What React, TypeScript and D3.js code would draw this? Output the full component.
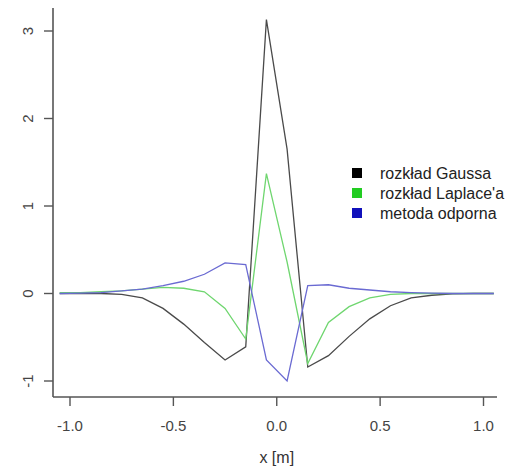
import React from "react";
import * as d3 from "d3";

const xs = [-1.05, -0.95, -0.85, -0.75, -0.65, -0.55, -0.45, -0.35, -0.25, -0.15, -0.05, 0.05, 0.15, 0.25, 0.35, 0.45, 0.55, 0.65, 0.75, 0.85, 0.95, 1.05];
const gauss = [0, 0, 0, -0.01, -0.05, -0.17, -0.35, -0.56, -0.76, -0.61, 3.13, 1.65, -0.84, -0.71, -0.49, -0.29, -0.14, -0.05, -0.02, -0.005, 0, 0];
const laplace = [0.01, 0.01, 0.02, 0.03, 0.05, 0.07, 0.06, 0.02, -0.17, -0.52, 1.37, 0.36, -0.8, -0.33, -0.15, -0.05, -0.01, 0, 0, 0, 0, 0];
const robust = [0, 0.005, 0.01, 0.03, 0.05, 0.09, 0.14, 0.22, 0.35, 0.33, -0.76, -1.0, 0.09, 0.1, 0.06, 0.04, 0.02, 0.01, 0.005, 0, 0, 0];
const seriesNames = ["rozkład Gaussa", "rozkład Laplace'a", "metoda odporna"];
const lineColors = ["#4a4a4a", "#6fd66f", "#6a6ad2"];
const keyColors = ["#000000", "#22cc22", "#1111bb"];
const xTicks = [-1.0, -0.5, 0.0, 0.5, 1.0];
const yTicks = [-1, 0, 1, 2, 3];
const xLabel = "x [m]";

export default function App() {
  const W = 525, H = 476;
  const x = d3.scaleLinear().domain([-1, 1]).range([70, 483.5]);
  const y = d3.scaleLinear().domain([-1, 3]).range([381, 31]);
  const axisLeft = 53, axisBottom = 397, axisTop = 8, axisRight = 497;
  const series = [gauss, laplace, robust];
  const line = d3.line<number>().x((_, i) => x(xs[i])).y((d) => y(d));
  const font = "'Liberation Sans', Arial, Helvetica, sans-serif";
  const axisColor = "#555";
  const textColor = "#444";
  return (
    <svg width={W} height={H} style={{ position: "absolute", left: 0, top: 0, background: "#fff" }} fontFamily={font}>
      <rect x={0} y={0} width={W} height={H} fill="#fff" />
      {/* axes */}
      <line x1={axisLeft} x2={axisLeft} y1={axisTop} y2={axisBottom} stroke={axisColor} strokeWidth={1.6} />
      <line x1={axisLeft} x2={axisRight} y1={axisBottom} y2={axisBottom} stroke={axisColor} strokeWidth={1.6} />
      {yTicks.map((t) => (
        <g key={"y" + t}>
          <line x1={axisLeft - 9} x2={axisLeft} y1={y(t)} y2={y(t)} stroke={axisColor} strokeWidth={1.4} />
          <text transform={`translate(${27},${y(t)}) rotate(-90)`} textAnchor="middle" dominantBaseline="central" fontSize={15} fill={textColor}>
            {t < 0 ? "-" + Math.abs(t) : String(t)}
          </text>
        </g>
      ))}
      {xTicks.map((t) => (
        <g key={"x" + t}>
          <line x1={x(t)} x2={x(t)} y1={axisBottom} y2={axisBottom + 9} stroke={axisColor} strokeWidth={1.4} />
          <text x={x(t)} y={425} textAnchor="middle" dominantBaseline="central" fontSize={15} fill={textColor}>
            {t < 0 ? "-" + Math.abs(t).toFixed(1) : t.toFixed(1)}
          </text>
        </g>
      ))}
      <text x={x(0)} y={457} textAnchor="middle" dominantBaseline="central" fontSize={16} fill="#333">{xLabel}</text>
      {/* lines */}
      {series.map((s, i) => (
        <path key={i} d={line(s) || ""} fill="none" stroke={lineColors[i]} strokeWidth={1.3} strokeLinejoin="miter" />
      ))}
      {/* legend */}
      {seriesNames.map((n, i) => (
        <g key={n}>
          <rect x={352} y={173 + i * 20 - 5} width={10} height={10} fill={keyColors[i]} />
          <text x={380} y={173 + i * 20} dominantBaseline="central" fontSize={16} fill="#222">{n}</text>
        </g>
      ))}
    </svg>
  );
}
